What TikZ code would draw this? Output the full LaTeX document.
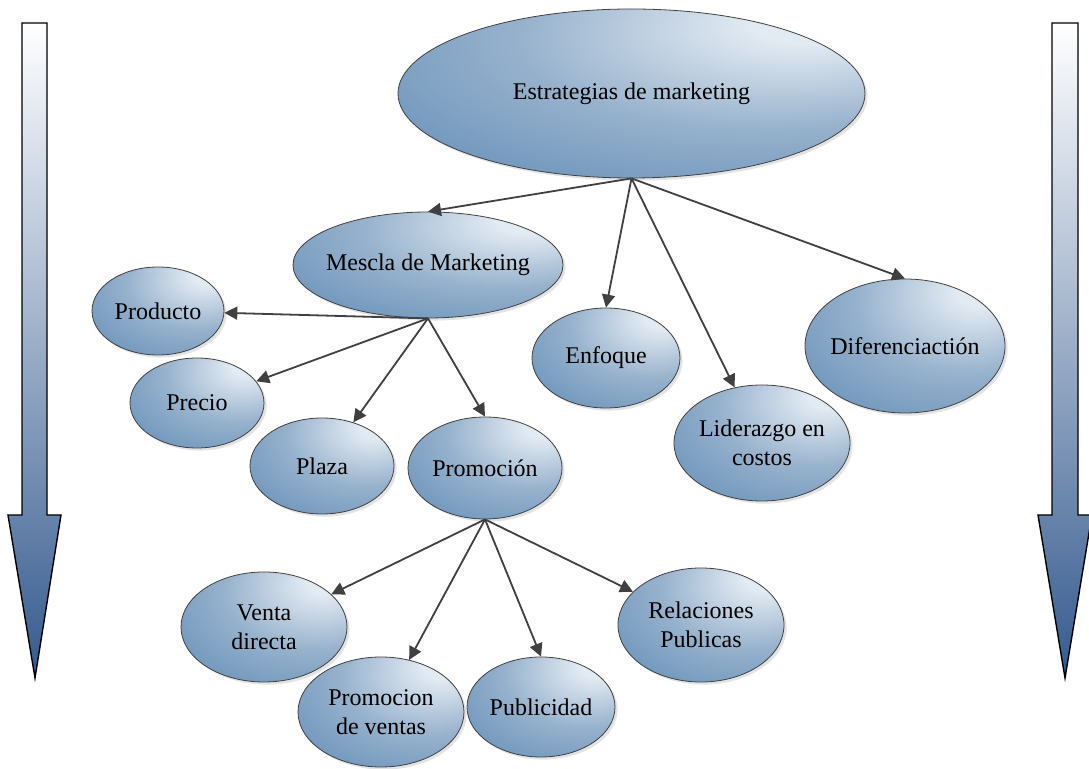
\documentclass[tikz,border=0pt]{standalone}
\usepackage{fontspec}
\setmainfont{Liberation Serif}
\usepackage{tikz}
\usetikzlibrary{arrows.meta, shapes.geometric, shadows}
\definecolor{bolaclara}{RGB}{226,234,242}
\definecolor{bolamedia}{RGB}{150,177,204}
\definecolor{bolaoscura}{RGB}{82,130,176}
\definecolor{flechagris}{RGB}{64,64,64}
\definecolor{barramedia}{RGB}{182,188,206}
\definecolor{barraoscura}{RGB}{52,90,142}

\pgfdeclareradialshading{bolashade}{\pgfpoint{20bp}{22bp}}{%
  color(0bp)=(bolaclara); color(6bp)=(bolaclara); color(27bp)=(bolamedia);
  color(58bp)=(bolaoscura); color(100bp)=(bolaoscura)}

\tikzset{
  burbuja/.style 2 args={ellipse, draw=flechagris, line width=0.4pt,
    shading=bolashade, inner xsep=-6pt, inner ysep=0pt, align=center,
    minimum width=#1pt, minimum height=#2pt,
    font=\fontsize{12}{14.5}\selectfont,
    drop shadow={opacity=0.22, shadow xshift=1.3pt, shadow yshift=-1.3pt}},
  conector/.style={-{Triangle[length=6.5pt, width=6.5pt]}, draw=flechagris, line width=0.9pt},
  barra/.style={draw=black, line width=0.7pt, top color=white,
    middle color=barramedia, bottom color=barraoscura}
}

\begin{document}
\begin{tikzpicture}[x=0.5pt, y=-0.5pt]
  \useasboundingbox (0,0) rectangle (1089,769);

  % side arrows
  \path[barra] (22,23) -- (47,23) -- (47,515) -- (61,515) -- (35,678) -- (8,515) -- (22,515) -- cycle;
  \path[barra] (1052,23) -- (1078,23) -- (1078,515) -- (1092,515) -- (1065,678) -- (1038,515) -- (1052,515) -- cycle;

  % top level
  \node[burbuja={233.5}{84.5}] (estr) at (631.5,93.5) {Estrategias de marketing};

  % second level
  \node[burbuja={135}{53}] (mez) at (428,265) {Mescla de Marketing};
  \node[burbuja={74}{50}] (enf) at (606,358) {Enfoque};
  \node[burbuja={88}{58}] (lid) at (762,443) {Liderazgo en\\costos};
  \node[burbuja={100}{67}] (dif) at (905,346) {Diferenciactión};

  % marketing mix
  \node[burbuja={66}{44}] (prod) at (158,311) {Producto};
  \node[burbuja={67}{45}] (prec) at (197,403) {Precio};
  \node[burbuja={72}{48}] (plaza) at (322,466) {Plaza};
  \node[burbuja={77}{51}] (prom) at (485,468) {Promoción};

  % promotion tools
  \node[burbuja={83}{55}] (venta) at (264,627) {Venta\\directa};
  \node[burbuja={83}{55}] (promv) at (381,712) {Promocion\\de ventas};
  \node[burbuja={74}{50}] (publ) at (541,707) {Publicidad};
  \node[burbuja={83}{57}] (rel) at (701,625) {Relaciones\\Publicas};

  % connectors
  \draw[conector] (estr.south) -- (mez.north);
  \draw[conector] (estr.south) -- (enf.north);
  \draw[conector] (estr.south) -- (lid);
  \draw[conector] (estr.south) -- (dif.north);

  \draw[conector] (mez.south) -- (prod);
  \draw[conector] (mez.south) -- (prec);
  \draw[conector] (mez.south) -- (plaza);
  \draw[conector] (mez.south) -- (prom.north);

  \draw[conector] (prom.south) -- (venta);
  \draw[conector] (prom.south) -- (promv);
  \draw[conector] (prom.south) -- (publ.north);
  \draw[conector] (prom.south) -- (rel);
\end{tikzpicture}
\end{document}
